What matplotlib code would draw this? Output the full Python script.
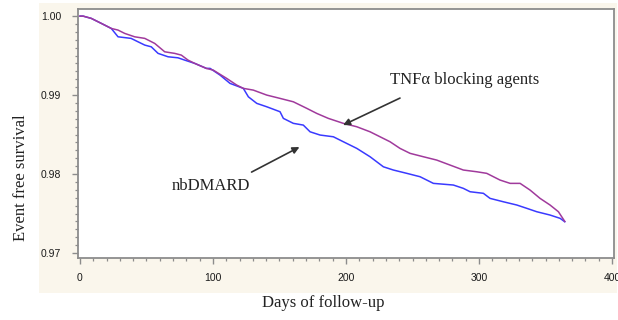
import matplotlib
matplotlib.use("Agg")
import matplotlib.pyplot as plt
from matplotlib.patches import Rectangle
from matplotlib.ticker import MultipleLocator

# Kaplan-Meier curves (fine steps, drawn as a line)
nb_days = [0, 2.3, 8.5, 16.0, 23.5, 28.6, 38.4, 43.6, 48.7, 53.6, 58.7, 66.2, 73.7,
           78.7, 86.3, 95.0, 97.8, 105.3, 112.8, 122.8, 126.6, 132.9, 140.4, 150.4,
           152.9, 160.4, 167.9, 173.0, 180.5, 190.5, 198.0, 208.1, 218.1, 228.1,
           235.6, 245.7, 255.7, 265.7, 280.7, 288.2, 293.3, 303.3, 308.3, 318.3,
           328.4, 335.9, 343.4, 353.4, 361.0, 364.5]
nb_surv = [1.0, 1.0, 0.99971, 0.99908, 0.99844, 0.99738, 0.99718, 0.99675, 0.99633,
           0.99611, 0.99528, 0.99485, 0.99472, 0.99443, 0.99401, 0.99338, 0.99338,
           0.99253, 0.99148, 0.99085, 0.98978, 0.98895, 0.98852, 0.98789, 0.98705,
           0.98642, 0.98620, 0.98535, 0.98494, 0.98472, 0.98409, 0.98325, 0.98219,
           0.98092, 0.98051, 0.98009, 0.97966, 0.97882, 0.97861, 0.97819, 0.97776,
           0.97756, 0.97692, 0.97649, 0.97608, 0.97566, 0.97523, 0.97481, 0.97439,
           0.97396]

tnf_days = [0, 2.3, 8.5, 16.0, 23.5, 28.6, 33.6, 41.1, 48.7, 56.2, 63.7, 71.2, 76.2,
            81.2, 86.3, 95.0, 100.2, 110.3, 117.8, 122.8, 130.3, 140.4, 150.4, 160.4,
            170.5, 178.0, 186.7, 198.0, 208.1, 218.1, 225.6, 233.1, 240.6, 248.2,
            258.2, 268.2, 278.2, 288.2, 298.3, 305.8, 315.8, 323.4, 330.9, 338.4,
            345.9, 353.4, 359.7, 364.5]
tnf_surv = [1.0, 1.0, 0.99971, 0.99908, 0.99844, 0.99823, 0.99781, 0.99738, 0.99718,
            0.99654, 0.99548, 0.99528, 0.99506, 0.99443, 0.99401, 0.99338, 0.99316,
            0.99211, 0.99127, 0.99085, 0.99063, 0.99000, 0.98958, 0.98915, 0.98832,
            0.98768, 0.98705, 0.98642, 0.98599, 0.98535, 0.98472, 0.98409, 0.98325,
            0.98262, 0.98219, 0.98177, 0.98114, 0.98051, 0.98029, 0.98009, 0.97924,
            0.97882, 0.97882, 0.97797, 0.97692, 0.97608, 0.97523, 0.97400]

x_ticks = [0, 100, 200, 300, 400]
y_ticks = [0.97, 0.98, 0.99, 1.00]

fig = plt.figure(figsize=(6.18, 3.2), dpi=100)
bg = Rectangle((39 / 618, 1 - 293 / 320), 578 / 618, 290 / 320,
               transform=fig.transFigure, facecolor="#faf6ec",
               edgecolor="none", zorder=-10)
fig.add_artist(bg)

ax = fig.add_axes([78 / 618, 1 - 258 / 320, 536 / 618, 249 / 320])
ax.set_zorder(1)
ax.set_facecolor("white")

ax.plot(nb_days, nb_surv, color="#3a3aff", lw=1.1)
ax.plot(tnf_days, tnf_surv, color="#a03a9c", lw=1.1)

ax.set_xlim(-1.5, 401.5)
ax.set_ylim(0.96937, 1.0009)
ax.set_xticks(x_ticks)
ax.set_yticks(y_ticks)
ax.set_yticklabels(["%.2f" % v for v in y_ticks])
ax.xaxis.set_minor_locator(MultipleLocator(10))
ax.yaxis.set_minor_locator(MultipleLocator(0.001))

for s in ax.spines.values():
    s.set_color("#8c8c8c")
    s.set_linewidth(1.3)
ax.tick_params(which="major", length=4, width=1.0, color="#8c8c8c",
               labelsize=7.5, labelcolor="#1a1a1a")
ax.tick_params(axis="x", which="major", pad=7)
ax.tick_params(axis="y", which="major", pad=8)
ax.tick_params(which="minor", length=2.5, width=0.9, color="#8c8c8c")
for lab in ax.get_xticklabels() + ax.get_yticklabels():
    lab.set_family("Liberation Sans")

fig.text(323 / 618, 1 - 303 / 320, "Days of follow-up", ha="center", va="center",
         family="Liberation Serif", fontsize=12, color="#222222")
fig.text(21 / 618, 1 - 178 / 320, "Event free survival", ha="center", va="center",
         rotation=90, family="Liberation Serif", fontsize=12, color="#222222")

arrow = dict(arrowstyle="-|>", color="#333333", lw=1.2, mutation_scale=10,
             shrinkA=0, shrinkB=0)
ax.annotate("", xy=(197.8, 0.98620), xytext=(240.6, 0.98962), arrowprops=arrow)
ax.annotate("", xy=(165, 0.98342), xytext=(129, 0.98025), arrowprops=arrow)
ax.text(289.5, 0.9919, "TNF\u03b1 blocking agents", ha="center", va="center",
        family="Liberation Serif", fontsize=12, color="#222222")
ax.text(98.5, 0.97848, "nbDMARD", ha="center", va="center",
        family="Liberation Serif", fontsize=12, color="#222222")

fig.savefig("out.png", dpi=100)
